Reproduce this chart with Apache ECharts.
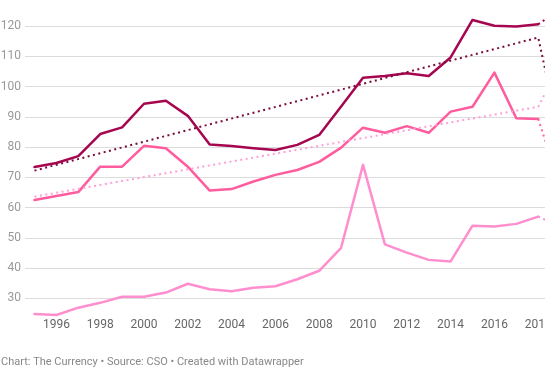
<!DOCTYPE html>
<html><head><meta charset="utf-8">
<script src="https://cdn.jsdelivr.net/npm/echarts@6/dist/echarts.min.js"></script>
<style>html,body{margin:0;padding:0;background:#fff;overflow:hidden}#c{width:545px;height:374px}</style>
</head><body><div id="c"></div>
<script>
// Data
const years = [1995,1996,1997,1998,1999,2000,2001,2002,2003,2004,2005,2006,2007,2008,2009,2010,2011,2012,2013,2014,2015,2016,2017,2018];
const seriesDark   = [73.4,74.7,77.0,84.3,86.5,94.3,95.3,90.3,80.8,80.3,79.6,79.0,80.7,84.0,93.4,102.9,103.5,104.4,103.5,109.6,122.0,120.1,119.8,120.6];
const seriesMedium = [62.5,63.8,65.1,73.5,73.5,80.4,79.6,73.5,65.6,66.1,68.6,70.8,72.4,75.1,79.8,86.4,84.7,86.9,84.7,91.7,93.3,104.6,89.5,89.3];
const seriesLight  = [24.8,24.5,26.9,28.5,30.5,30.5,31.9,34.8,33.0,32.3,33.5,34.0,36.3,39.1,46.7,74.1,47.8,45.1,42.7,42.2,54.0,53.7,54.6,57.0];
// dotted continuation past the last year (mostly off-canvas)
const projYears  = [2018, 2019];
const projDark   = [120.6, 125.5];
const projMedium = [89.3, 67.0];
const projLight  = [57.0, 53.7];
// dotted trend lines
const trendYears  = [1995, 2018, 2019];
const trendDark   = [72.2, 116.2, 83.0];
const trendMedium = [63.6, 93.3, 107.4];
// axis labels
const xLabels = [1996,1998,2000,2002,2004,2006,2008,2010,2012,2014,2016,2018];
const yMin = 30, yMax = 120, yStep = 10;
const footer = 'Chart: The Currency \u2022 Source: CSO \u2022 Created with Datawrapper';

const pairs = (xs, ys) => xs.map((x, i) => [x, ys[i]]);
const solid = (data, color) => ({
  type: 'line', data, symbol: 'none', clip: false, silent: true,
  lineStyle: { color, width: 2.5, join: 'round', cap: 'round' }
});
const dotted = (data, color) => ({
  type: 'line', data, symbol: 'none', clip: false, silent: true,
  lineStyle: { color, width: 2, type: [2, 3.5] }
});

const cDark = '#a6064f', cMed = '#ff5c9e', cLight = '#ff8ecf';
const cTrendDark = '#7a0c3e', cTrendMed = '#ff9fd8';

const chart = echarts.init(document.getElementById('c'), null, { renderer: 'canvas' });
chart.setOption({
  animation: false,
  backgroundColor: '#fff',
  textStyle: { fontFamily: 'Roboto' },
  grid: { left: 25, right: 0, top: 26, bottom: 75.7, containLabel: false, outerBoundsMode: 'none' },
  xAxis: {
    type: 'value', min: 1994.566, max: 2018.31,
    axisLine: { show: false }, axisTick: { show: false }, splitLine: { show: false },
    axisLabel: {
      customValues: xLabels, formatter: v => String(v),
      color: '#666', fontSize: 12, fontFamily: 'Roboto', margin: 21, hideOverlap: false
    }
  },
  yAxis: {
    type: 'value', min: yMin, max: yMax, interval: yStep,
    axisLine: { show: false }, axisTick: { show: false },
    splitLine: { lineStyle: { color: '#dcdcdc', width: 1 } },
    axisLabel: { color: '#999', fontSize: 12, fontFamily: 'Roboto', margin: 4 }
  },
  graphic: [{
    type: 'text', left: 1, top: 357,
    style: { text: footer, fill: '#888', fontSize: 11, fontFamily: 'Roboto' }
  }],
  series: [
    solid(pairs(years, seriesLight), cLight),
    dotted(pairs(projYears, projLight), cLight),
    solid(pairs(years, seriesMedium), cMed),
    dotted(pairs(projYears, projMedium), cMed),
    solid(pairs(years, seriesDark), cDark),
    dotted(pairs(projYears, projDark), cDark),
    dotted(pairs(trendYears, trendMedium), cTrendMed),
    dotted(pairs(trendYears, trendDark), cTrendDark)
  ]
});
</script></body></html>
